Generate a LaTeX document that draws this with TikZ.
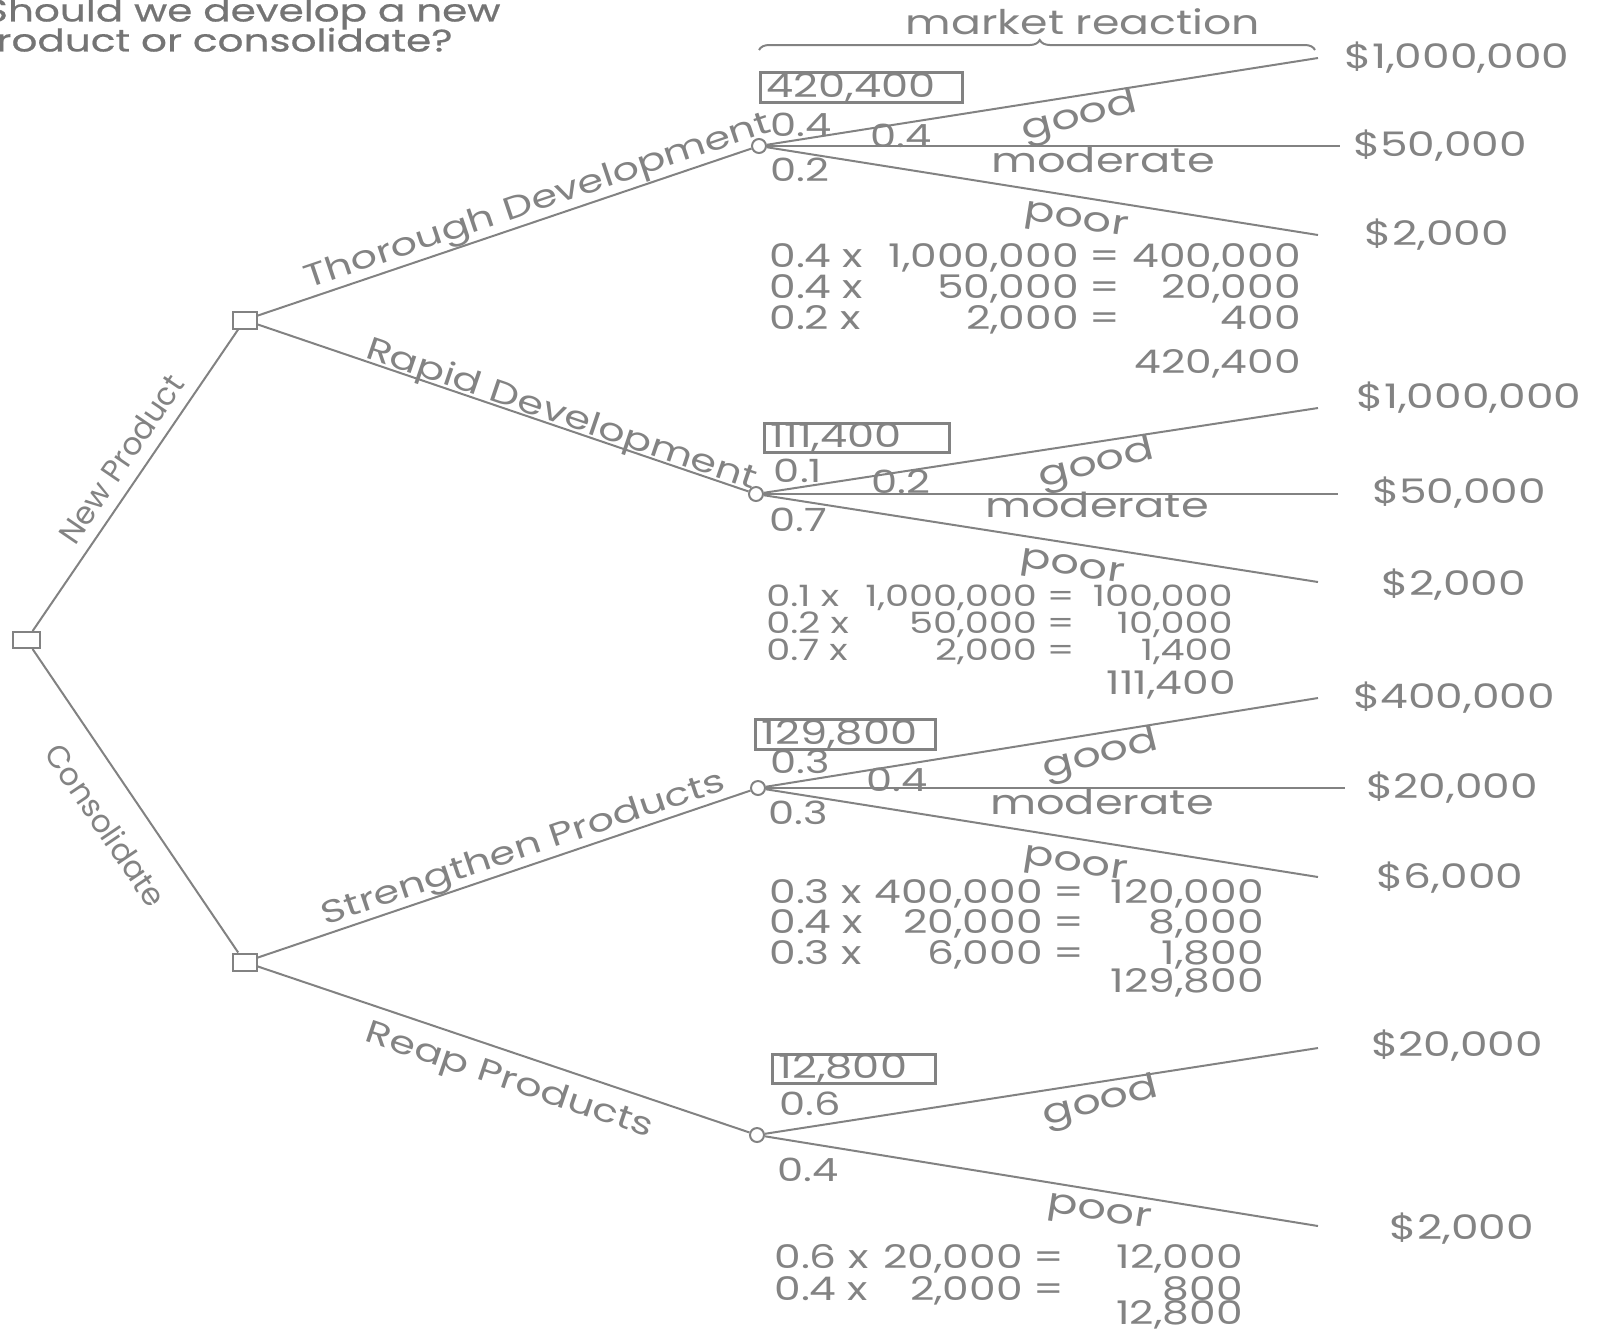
\documentclass[tikz,border=0pt]{standalone}
\usepackage{fontspec}
\setmainfont[FakeStretch=1.3]{Poppins}
\newfontfamily\titlefont[FakeBold=0.6,FakeStretch=1.3]{Poppins}
\newfontfamily\plainfont{Poppins}
\usetikzlibrary{decorations.pathreplacing}
\definecolor{ln}{HTML}{828282}
\definecolor{tx}{HTML}{838383}
\definecolor{tt}{HTML}{747474}
\tikzset{
  decbox/.style={draw=ln, line width=1pt, minimum width=12pt, minimum height=8.5pt, inner sep=0pt, fill=white},
  chance/.style={circle, draw=ln, line width=1pt, minimum size=7pt, inner sep=0pt, fill=white},
  branch/.style={draw=ln, line width=1pt},
  lbl/.style={text=tx, inner sep=0pt, font=\fontsize{16}{18}\selectfont},
  dlbl/.style={lbl, font=\fontsize{16}{18}\selectfont},
  slbl/.style={lbl, font=\plainfont\fontsize{15.6}{17}\selectfont},
  olbl/.style={lbl, font=\fontsize{17.2}{19}\selectfont},
  pay/.style={lbl, font=\fontsize{16.9}{19}\selectfont},
  prob/.style={lbl, font=\fontsize{16}{18}\selectfont},
  calc/.style={lbl, font=\fontsize{16.3}{18}\selectfont},
  calcs/.style={lbl, font=\fontsize{14.7}{17}\selectfont},
  evbox/.style={draw=ln, line width=1.5pt, text=tx, inner xsep=3pt, inner ysep=0pt, anchor=north west, align=left, font=\fontsize{16.6}{18}\selectfont},
  ttl/.style={text=tt, inner sep=0pt, font=\titlefont\fontsize{15.6}{18}\selectfont}
}
\begin{document}
\begin{tikzpicture}[x=0.5pt,y=-0.5pt]
\useasboundingbox (0,0) rectangle (1598,1329);

% title
\node[ttl, anchor=mid east] (t1) at (501,16) {Should we develop a new};
\node[ttl, anchor=mid east] (t2) at (453,46) {product or consolidate?};

% market reaction
\node[lbl, font=\fontsize{17}{19}\selectfont] (mr) at (1083,22) {market reaction};
\coordinate (brL) at (759,50);
\coordinate (brR) at (1315,50);
\draw[branch, decorate, decoration={brace, amplitude=5pt, aspect=0.505}] (brL) -- (brR);

% decision nodes
\node[decbox, minimum width=13.5pt, minimum height=8pt] (root) at (26.5,640) {};
\node[decbox] (np) at (244.6,320) {};
\node[decbox] (con) at (244.6,962) {};

% chance nodes
\node[chance] (ct) at (759,146) {};
\node[chance] (cr) at (756,494) {};
\node[chance] (cs) at (758,788) {};
\node[chance] (cp) at (757,1135) {};

% decision branches
\draw[branch] (root) -- (np);
\draw[branch] (root) -- (con);
\draw[branch] (np) -- (ct);
\draw[branch] (np) -- (cr);
\draw[branch] (con) -- (cs);
\draw[branch] (con) -- (cp);

\node[slbl, rotate=55.7] (lnp) at (121,459) {New Product};
\node[slbl, rotate=-55.9] (lco) at (106,825) {Consolidate};
\node[dlbl, rotate=18.7] (lth) at (538,203) {Thorough Development};
\node[dlbl, rotate=-18.8] (lra) at (561,416) {Rapid Development};
\node[dlbl, rotate=18.7] (lst) at (524,850) {Strengthen Products};
\node[dlbl, rotate=-18.7] (lre) at (509,1082) {Reap Products};

% chance branch ends
\coordinate (tg) at (1318,58);  \coordinate (tm) at (1340,146); \coordinate (tp) at (1318,235);
\coordinate (rg) at (1318,408); \coordinate (rm) at (1338,494); \coordinate (rp) at (1318,582);
\coordinate (sg) at (1318,698); \coordinate (sm) at (1345,788); \coordinate (sp) at (1318,877);
\coordinate (pg) at (1318,1048); \coordinate (pp) at (1318,1226);

\draw[branch] (ct) -- (tg); \draw[branch] (ct) -- (tm); \draw[branch] (ct) -- (tp);
\draw[branch] (cr) -- (rg); \draw[branch] (cr) -- (rm); \draw[branch] (cr) -- (rp);
\draw[branch] (cs) -- (sg); \draw[branch] (cs) -- (sm); \draw[branch] (cs) -- (sp);
\draw[branch] (cp) -- (pg); \draw[branch] (cp) -- (pp);

% payoffs
\node[pay] (vtg) at (1457,58) {\$1,000,000};
\node[pay] (vtm) at (1440,146) {\$50,000};
\node[pay] (vtp) at (1437,235) {\$2,000};
\node[pay] (vrg) at (1469,398) {\$1,000,000};
\node[pay] (vrm) at (1459,493) {\$50,000};
\node[pay] (vrp) at (1454,585) {\$2,000};
\node[pay] (vsg) at (1454,698) {\$400,000};
\node[pay] (vsm) at (1452,788) {\$20,000};
\node[pay] (vsp) at (1450,878) {\$6,000};
\node[pay] (vpg) at (1457,1046) {\$20,000};
\node[pay] (vpp) at (1462,1229) {\$2,000};

% outcome labels
\node[olbl, rotate=14] (gt) at (1080,118) {good};
\node[olbl] (mt) at (1103,160) {moderate};
\node[olbl, rotate=-9] (pt) at (1076,223) {poor};
\node[olbl, rotate=14] (gr) at (1097,465) {good};
\node[olbl] (mr2) at (1097,505) {moderate};
\node[olbl, rotate=-9] (pr) at (1072,570) {poor};
\node[olbl, rotate=14] (gs) at (1101,756) {good};
\node[olbl] (ms) at (1102,802) {moderate};
\node[olbl, rotate=-9] (ps) at (1075,867) {poor};
\node[olbl, rotate=14] (gp) at (1101,1103) {good};
\node[olbl, rotate=-9] (pp2) at (1099,1215) {poor};

% probabilities
\node[prob] at (801,125) {0.4}; \node[prob] at (901,136) {0.4}; \node[prob] at (800,170) {0.2};
\node[prob] at (798,471) {0.1}; \node[prob] at (901,482) {0.2}; \node[prob] at (798,520) {0.7};
\node[prob] at (800,762) {0.3}; \node[prob] at (897,780) {0.4}; \node[prob] at (798,813) {0.3};
\node[prob] at (810,1104) {0.6}; \node[prob] at (808,1170) {0.4};

% expected value boxes
\node[evbox, minimum width=101pt, minimum height=15pt, text width=95pt] (ev1) at (759,71) {420,400};
\node[evbox, minimum width=92.5pt, minimum height=14.5pt, text width=86.5pt] (ev2) at (763,422) {111,400};
\node[evbox, minimum width=90pt, minimum height=15pt, text width=84pt] (ev3) at (754,718) {129,800};
\node[evbox, minimum width=81.5pt, minimum height=14.5pt, text width=75.5pt] (ev4) at (771,1053) {12,800};

% calculations: Thorough
\node[calc, anchor=mid west] at (769,262) {0.4 x}; \node[calc, anchor=mid east] at (1121,262) {1,000,000 =}; \node[calc, anchor=mid east] at (1301,262) {400,000};
\node[calc, anchor=mid west] at (769,293) {0.4 x}; \node[calc, anchor=mid east] at (1121,293) {50,000 =}; \node[calc, anchor=mid east] at (1301,293) {20,000};
\node[calc, anchor=mid west] at (769,324) {0.2 x}; \node[calc, anchor=mid east] at (1121,324) {2,000 =}; \node[calc, anchor=mid east] at (1301,324) {400};
\node[calc, anchor=mid east] at (1301,368) {420,400};

% calculations: Rapid
\node[calcs, anchor=mid west] at (766,601) {0.1 x}; \node[calcs, anchor=mid east] at (1075,601) {1,000,000 =}; \node[calcs, anchor=mid east] at (1233,601) {100,000};
\node[calcs, anchor=mid west] at (766,628) {0.2 x}; \node[calcs, anchor=mid east] at (1075,628) {50,000 =}; \node[calcs, anchor=mid east] at (1233,628) {10,000};
\node[calcs, anchor=mid west] at (766,655) {0.7 x}; \node[calcs, anchor=mid east] at (1075,655) {2,000 =}; \node[calcs, anchor=mid east] at (1233,655) {1,400};
\node[calc, anchor=mid east] at (1236,689) {111,400};

% calculations: Strengthen
\node[calc, anchor=mid west] at (769,898) {0.3 x}; \node[calc, anchor=mid east] at (1085,898) {400,000 =}; \node[calc, anchor=mid east] at (1264,898) {120,000};
\node[calc, anchor=mid west] at (769,928) {0.4 x}; \node[calc, anchor=mid east] at (1085,928) {20,000 =}; \node[calc, anchor=mid east] at (1264,928) {8,000};
\node[calc, anchor=mid west] at (769,959) {0.3 x}; \node[calc, anchor=mid east] at (1085,959) {6,000 =}; \node[calc, anchor=mid east] at (1264,959) {1,800};
\node[calc, anchor=mid east] at (1264,987) {129,800};

% calculations: Reap
\node[calc, anchor=mid west] at (774,1263) {0.6 x}; \node[calc, anchor=mid east] at (1065,1263) {20,000 =}; \node[calc, anchor=mid east] at (1243,1263) {12,000};
\node[calc, anchor=mid west] at (774,1295) {0.4 x}; \node[calc, anchor=mid east] at (1065,1295) {2,000 =}; \node[calc, anchor=mid east] at (1243,1295) {800};
\node[calc, anchor=mid east] at (1243,1319) {12,800};
\end{tikzpicture}
\end{document}
